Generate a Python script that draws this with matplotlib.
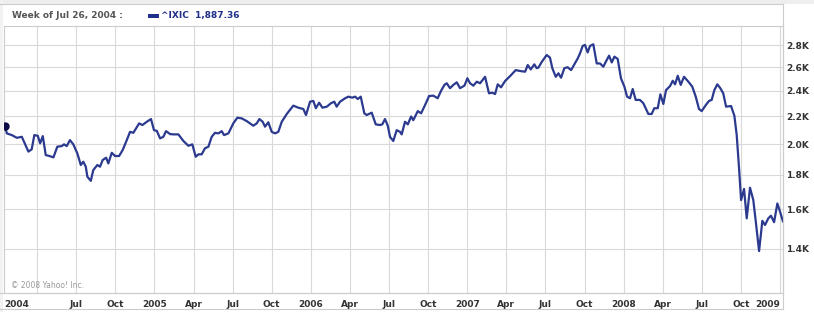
import matplotlib
matplotlib.use("Agg")
import matplotlib.pyplot as plt
from matplotlib.lines import Line2D
from matplotlib.patches import Rectangle
from matplotlib.ticker import FixedLocator, NullLocator

# ---- data (weekly close of ^IXIC; x in decimal years) ----
years = [
    2004.045, 2004.056, 2004.088, 2004.120, 2004.152, 2004.166, 2004.194, 2004.215, 2004.232, 2004.254,
    2004.269, 2004.286, 2004.305, 2004.328, 2004.354, 2004.379, 2004.407, 2004.422, 2004.439, 2004.460,
    2004.481, 2004.507, 2004.529, 2004.545, 2004.561, 2004.571, 2004.593, 2004.609, 2004.635, 2004.652,
    2004.669, 2004.691, 2004.705, 2004.727, 2004.748, 2004.774, 2004.797, 2004.823, 2004.844, 2004.865,
    2004.902, 2004.923, 2004.951, 2004.978, 2004.997, 2005.015, 2005.036, 2005.057, 2005.074, 2005.100,
    2005.121, 2005.153, 2005.185, 2005.217, 2005.242, 2005.264, 2005.281, 2005.302, 2005.323, 2005.345,
    2005.366, 2005.387, 2005.409, 2005.430, 2005.445, 2005.473, 2005.504, 2005.530, 2005.558, 2005.590,
    2005.632, 2005.654, 2005.671, 2005.692, 2005.707, 2005.728, 2005.750, 2005.771, 2005.792, 2005.814,
    2005.846, 2005.888, 2005.920, 2005.952, 2005.969, 2005.995, 2006.016, 2006.032, 2006.053, 2006.074,
    2006.102, 2006.129, 2006.150, 2006.165, 2006.187, 2006.219, 2006.240, 2006.265, 2006.283, 2006.300,
    2006.319, 2006.342, 2006.357, 2006.389, 2006.415, 2006.442, 2006.457, 2006.474, 2006.492, 2006.506,
    2006.527, 2006.549, 2006.570, 2006.581, 2006.602, 2006.620, 2006.641, 2006.655, 2006.684, 2006.705,
    2006.730, 2006.756, 2006.783, 2006.811, 2006.832, 2006.854, 2006.869, 2006.890, 2006.911, 2006.933,
    2006.954, 2006.982, 2007.001, 2007.018, 2007.039, 2007.061, 2007.082, 2007.114, 2007.139, 2007.160,
    2007.178, 2007.195, 2007.216, 2007.242, 2007.274, 2007.310, 2007.338, 2007.370, 2007.387, 2007.406,
    2007.429, 2007.444, 2007.455, 2007.477, 2007.508, 2007.529, 2007.544, 2007.566, 2007.583, 2007.600,
    2007.621, 2007.642, 2007.664, 2007.685, 2007.707, 2007.721, 2007.738, 2007.753, 2007.770, 2007.785,
    2007.806, 2007.828, 2007.849, 2007.870, 2007.886, 2007.907, 2007.924, 2007.941, 2007.962, 2007.983,
    2008.005, 2008.022, 2008.041, 2008.058, 2008.077, 2008.104, 2008.126, 2008.158, 2008.179, 2008.196,
    2008.218, 2008.235, 2008.254, 2008.271, 2008.297, 2008.314, 2008.329, 2008.346, 2008.365, 2008.386,
    2008.414, 2008.439, 2008.461, 2008.482, 2008.499, 2008.525, 2008.546, 2008.563, 2008.580, 2008.599,
    2008.616, 2008.637, 2008.655, 2008.687, 2008.708, 2008.723, 2008.738, 2008.751, 2008.770, 2008.787,
    2008.808, 2008.829, 2008.845, 2008.866, 2008.887, 2008.904, 2008.925, 2008.942, 2008.962, 2008.983,
    2009.000, 2009.019,
]
closes = [
    2129, 2074, 2062, 2043, 2050, 2016, 1949, 1964, 2062, 2057,
    2005, 2055, 1926, 1920, 1911, 1982, 1986, 1998, 1986, 2027,
    1998, 1937, 1862, 1883, 1851, 1789, 1764, 1830, 1862, 1851,
    1894, 1909, 1872, 1941, 1920, 1920, 1960, 2027, 2085, 2078,
    2146, 2134, 2158, 2178, 2097, 2092, 2039, 2050, 2090, 2069,
    2067, 2067, 2021, 1988, 1998, 1915, 1931, 1931, 1971, 1982,
    2050, 2078, 2074, 2090, 2062, 2074, 2146, 2188, 2183, 2163,
    2129, 2146, 2178, 2158, 2122, 2154, 2085, 2074, 2085, 2158,
    2216, 2280, 2264, 2254, 2208, 2311, 2317, 2260, 2303, 2264,
    2272, 2299, 2311, 2272, 2311, 2338, 2351, 2343, 2351, 2332,
    2351, 2221, 2208, 2226, 2139, 2134, 2139, 2178, 2129, 2050,
    2021, 2097, 2085, 2067, 2158, 2139, 2197, 2170, 2238, 2221,
    2284, 2356, 2359, 2338, 2397, 2447, 2461, 2420, 2447, 2469,
    2420, 2441, 2503, 2461, 2441, 2474, 2461, 2516, 2378, 2383,
    2372, 2452, 2427, 2480, 2522, 2574, 2566, 2560, 2619, 2580,
    2625, 2591, 2596, 2648, 2710, 2686, 2591, 2516, 2546, 2508,
    2591, 2599, 2574, 2625, 2680, 2725, 2795, 2805, 2734, 2795,
    2811, 2633, 2633, 2604, 2648, 2704, 2642, 2695, 2674, 2503,
    2432, 2351, 2338, 2413, 2325, 2325, 2299, 2216, 2216, 2260,
    2260, 2370, 2293, 2404, 2438, 2482, 2452, 2525, 2447, 2516,
    2474, 2432, 2351, 2254, 2238, 2284, 2317, 2325, 2404, 2452,
    2424, 2378, 2272, 2277, 2203, 2062, 1841, 1652, 1716, 1552,
    1723, 1652, 1535, 1388, 1539, 1517, 1552, 1566, 1532, 1633,
    1588, 1535,
]

x_tick_pos = [2004.038, 2004.25, 2004.5, 2004.75, 2005.0, 2005.25, 2005.5, 2005.75,
              2006.0, 2006.25, 2006.5, 2006.75, 2007.0, 2007.25, 2007.5, 2007.75,
              2008.0, 2008.25, 2008.5, 2008.75, 2009.0]
x_tick_labels = ["2004", "", "Jul", "Oct", "2005", "Apr", "Jul", "Oct",
                 "2006", "Apr", "Jul", "Oct", "2007", "Apr", "Jul", "Oct",
                 "2008", "Apr", "Jul", "Oct", "2009"]
y_tick_vals = [1400, 1600, 1800, 2000, 2200, 2400, 2600, 2800]
y_tick_labels = ["1.4K", "1.6K", "1.8K", "2.0K", "2.2K", "2.4K", "2.6K", "2.8K"]

header_text = "Week of Jul 26, 2004 :"
ticker_text = "^IXIC  1,887.36"
copyright_text = "\u00a9 2008 Yahoo! Inc."

# ---- styling ----
W, H = 814, 312
LINE = "#2b3a8f"
GRID = "#d9d9d9"
BORDER = "#cccccc"
TXT = "#333333"

plt.rcParams["font.family"] = ["DejaVu Sans"]
fig = plt.figure(figsize=(W / 100, H / 100), dpi=100)
fig.patch.set_facecolor("white")

def fx(px):
    return px / W

def fy(py):
    return 1 - py / H

left_px, right_px, top_px, bot_px = 4, 783, 26, 293
ax = fig.add_axes([fx(left_px), fy(bot_px), fx(right_px - left_px), (bot_px - top_px) / H])

ax.plot(years, closes, color=LINE, lw=1.6, solid_joinstyle="round", solid_capstyle="round", zorder=3)
ax.plot(years[:1], closes[:1], "o", color="#0b0b45", ms=5, zorder=4)

ax.set_yscale("log")
ax.set_ylim(1203, 2992)
ax.set_xlim(2004.038, 2009.019)

ax.yaxis.set_major_locator(FixedLocator(y_tick_vals))
ax.yaxis.set_minor_locator(NullLocator())
ax.set_yticklabels(y_tick_labels)
ax.yaxis.tick_right()
ax.tick_params(axis="y", length=0, pad=2.5, labelsize=6.5, labelcolor=TXT)
for t in ax.get_yticklabels():
    t.set_fontweight("bold")

ax.set_xticks(x_tick_pos)
ax.set_xticklabels(x_tick_labels)
ax.xaxis.set_minor_locator(NullLocator())
ax.tick_params(axis="x", length=0, pad=5, labelsize=6.5, labelcolor=TXT)
xl = ax.get_xticklabels()
for t in xl:
    t.set_fontweight("bold")
xl[0].set_horizontalalignment("left")
xl[-1].set_horizontalalignment("right")

ax.grid(True, color=GRID, lw=0.8, zorder=0)
for s in ax.spines.values():
    s.set_color(BORDER)
    s.set_linewidth(0.8)

# frame pieces outside the axes
fig.add_artist(Rectangle((0, fy(4)), 1, 4 / H, transform=fig.transFigure, color="#eeeeee", lw=0, zorder=0))
fig.add_artist(Rectangle((0, 0), fx(3), 1, transform=fig.transFigure, color="#f2f2f2", lw=0, zorder=0))
for py in (4, 309):
    fig.add_artist(Line2D([fx(0), fx(right_px)], [fy(py), fy(py)], transform=fig.transFigure, color=BORDER, lw=0.8))
fig.add_artist(Line2D([fx(0), fx(right_px)], [fy(bot_px), fy(bot_px)], transform=fig.transFigure, color=BORDER, lw=0.8))
fig.add_artist(Line2D([fx(right_px), fx(right_px)], [fy(4), fy(309)], transform=fig.transFigure, color=BORDER, lw=0.8))

# header
fig.text(fx(12), fy(15.5), header_text, fontsize=6.5, fontweight="bold", color="#555555", va="center", ha="left")
fig.add_artist(Rectangle((fx(148), fy(17.5)), fx(11), 4 / H, transform=fig.transFigure, color="#1f2f8a", lw=0))
fig.text(fx(161), fy(15.5), ticker_text, fontsize=6.5, fontweight="bold", color="#1f2f8a", va="center", ha="left")

# copyright
fig.text(fx(11), fy(286), copyright_text, fontsize=5.5, color="#999999", va="center", ha="left")

fig.savefig("out.png", dpi=100, facecolor="white")
